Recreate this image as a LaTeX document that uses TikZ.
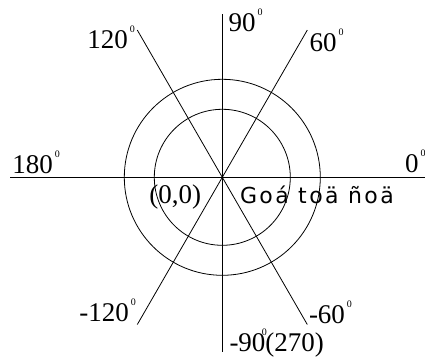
\documentclass[tikz,border=0pt]{standalone}
\usepackage{fontspec}
\setmainfont{Liberation Serif}
\newfontfamily\vnfont[LetterSpace=11]{DejaVu Sans}
\usetikzlibrary{calc}
\newcommand{\sdeg}[1][2pt]{\rlap{\hspace{#1}\raisebox{16pt}{\fontsize{10}{10}\selectfont 0}}}
\tikzset{
  axis/.style={line width=0.8pt},
  angle label/.style={anchor=base west,inner sep=0pt,font=\fontsize{27}{27}\selectfont},
}

\begin{document}
\begin{tikzpicture}[x=1pt,y=1pt]
  \useasboundingbox (-222.3,-180.7) rectangle (202.7,177.3);
  \coordinate (O) at (0,0);

  \draw[axis] (O) circle (98pt);
  \draw[axis] (O) circle (68pt);

  \coordinate (west) at (-212,0);
  \coordinate (east) at (206,0);
  \coordinate (north) at (0,163);
  \coordinate (south) at (0,-175);
  \draw[axis] (west) -- (east);
  \draw[axis] (north) -- (south);

  \foreach \angle in {60, 120, 240, 300} {
    \draw[axis] (O) -- ({170*cos(\angle)},{170*sin(\angle)});
  }

  \node[angle label] (l120) at (-135,128.8) {120\sdeg};
  \node[angle label] (l90) at (6,145.6) {90\sdeg};
  \node[angle label] (l60) at (87,125.8) {60\sdeg};
  \node[angle label] (l180) at (-210,4) {180\sdeg};
  \node[angle label] (l0) at (182.5,4.3) {0\sdeg};
  \node[angle label] (lorigin) at (-73,-26.7) {(0,0)};
  \node[angle label,font=\vnfont\fontsize{22}{22}\selectfont] (lname) at (17.5,-26.7) {Goá toä ñoä};
  \node[angle label] (lm120) at (-143,-143.7) {-120\sdeg};
  \node[angle label] (lm60) at (86.5,-146) {-60\sdeg};
  \node[angle label] (lm90) at (7,-173.7) {-90\sdeg[-3.5pt](270)};
\end{tikzpicture}
\end{document}
